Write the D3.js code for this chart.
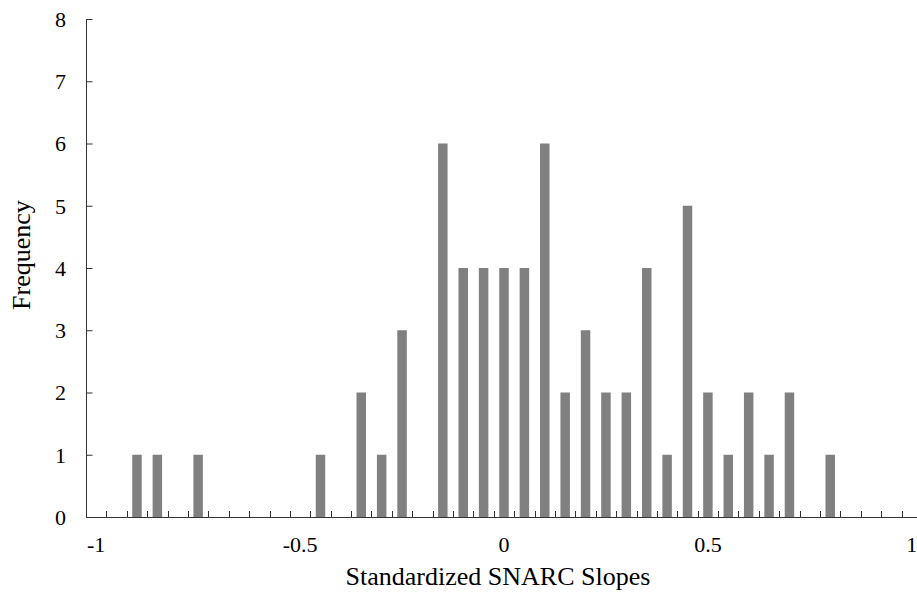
<!DOCTYPE html>
<html><head><meta charset="utf-8">
<script src="https://cdn.jsdelivr.net/npm/d3@7"></script>
<style>body{margin:0;background:#fff}svg{display:block}
text{font-family:"Liberation Serif","Times New Roman",Times,"DejaVu Serif",serif}</style>
</head><body>
<svg id="c" width="917" height="599"></svg>
<script>
const categories = ["-1","-0.95","-0.9","-0.85","-0.8","-0.75","-0.7","-0.65","-0.6","-0.55","-0.5","-0.45","-0.4","-0.35","-0.3","-0.25","-0.2","-0.15","-0.1","-0.05","0","0.05","0.1","0.15","0.2","0.25","0.3","0.35","0.4","0.45","0.5","0.55","0.6","0.65","0.7","0.75","0.8","0.85","0.9","0.95","1"];
const frequencies = [0,0,1,1,0,1,0,0,0,0,0,1,0,2,1,3,0,6,4,4,4,4,6,2,3,2,2,4,1,5,2,1,2,1,2,0,1,0,0,0,0];
const xTickLabels = ["-1","-0.5","0","0.5","1"];
const yTicks = [0,1,2,3,4,5,6,7,8];

const svg = d3.select("#c");
const axisColor = "#333";
const x = d3.scaleBand().domain(categories).range([86, 922]).paddingInner(0.535).paddingOuter(0.2675);
const y = d3.scaleLinear().domain([0, 8]).range([517, 19]);
const step = x.step();

// bars
svg.append("g").selectAll("rect").data(categories.map((c,i)=>({c, v: frequencies[i]})).filter(d=>d.v>0))
  .enter().append("rect")
  .attr("x", d => x(d.c)).attr("width", x.bandwidth())
  .attr("y", d => y(d.v)).attr("height", d => y(0) - y(d.v))
  .attr("fill", "#808080");

// y axis
const yAxis = svg.append("g").attr("transform", "translate(86.5,0)")
  .call(d3.axisRight(y).tickValues(yTicks).tickSize(6).tickFormat(""));
yAxis.select(".domain").attr("stroke", axisColor).attr("d", `M0,${y(8)}V${y(0)}`);
yAxis.selectAll(".tick line").attr("stroke", axisColor);
svg.append("g").selectAll("text").data(yTicks).enter().append("text")
  .attr("x", 66).attr("y", d => y(d)).attr("dy", "0.36em")
  .attr("text-anchor", "end").attr("font-size", 22).attr("fill", "#000")
  .text(d => d);

// x axis
const bounds = categories.slice(1).map(c => x(c) - (step - x.bandwidth())/2);
const xg = svg.append("g");
xg.append("line").attr("x1", 86).attr("x2", 922).attr("y1", y(0)+0.5).attr("y2", y(0)+0.5).attr("stroke", axisColor);
xg.selectAll("line.t").data(bounds).enter().append("line").attr("class","t")
  .attr("x1", d => Math.round(d)+0.5).attr("x2", d => Math.round(d)+0.5)
  .attr("y1", y(0)).attr("y2", y(0)-6).attr("stroke", axisColor);
xg.selectAll("text").data(xTickLabels).enter().append("text")
  .attr("x", d => x(d) + x.bandwidth()/2).attr("y", 552)
  .attr("text-anchor", "middle").attr("font-size", 22).attr("fill", "#000")
  .text(d => d);

// titles
svg.append("text").attr("x", 498).attr("y", 585).attr("text-anchor", "middle")
  .attr("font-size", 26).attr("fill", "#000").text("Standardized SNARC Slopes");
svg.append("text").attr("transform", "translate(30,255) rotate(-90)").attr("text-anchor", "middle")
  .attr("font-size", 26).attr("fill", "#000").text("Frequency");
</script>
</body></html>
